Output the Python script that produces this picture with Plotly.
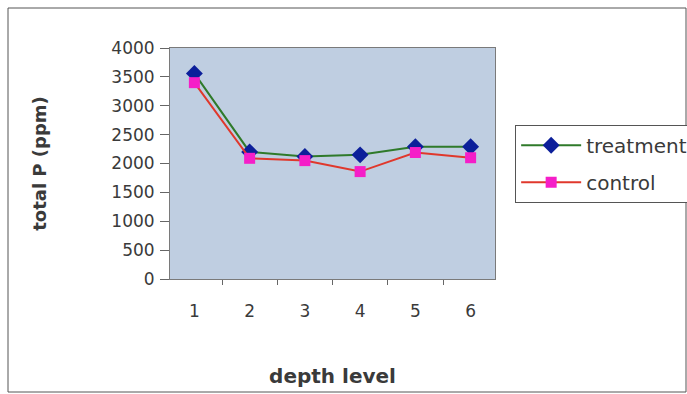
import plotly.graph_objects as go

depth = ["1", "2", "3", "4", "5", "6"]
treatment = [3560, 2200, 2120, 2150, 2290, 2290]
control = [3400, 2090, 2050, 1860, 2190, 2100]
y_ticks = [0, 500, 1000, 1500, 2000, 2500, 3000, 3500, 4000]

FONT = "DejaVu Sans, Verdana, sans-serif"
TXT = "#3a3a3a"

fig = go.Figure()
fig.add_trace(go.Scatter(
    x=depth, y=treatment, name="treatment", mode="lines+markers",
    line=dict(color="#2f7a2a", width=2),
    marker=dict(symbol="diamond", size=13, color="#0c1f9a"),
    legendgroup="a"))
fig.add_trace(go.Scatter(
    x=depth, y=control, name="control", mode="lines+markers",
    line=dict(color="#e0382c", width=2),
    marker=dict(symbol="square", size=11, color="#f51ec8"),
    legendgroup="b"))

fig.update_layout(
    width=687, height=394,
    margin=dict(l=170, r=192, t=48, b=115, autoexpand=False),
    paper_bgcolor="white",
    plot_bgcolor="#bfcee1",
    font=dict(family=FONT, size=17, color=TXT),
    showlegend=True,
    legend=dict(
        x=1.062, xanchor="left", y=0.668, yanchor="top",
        bordercolor="#555555", borderwidth=1, bgcolor="white",
        font=dict(size=20, color=TXT), itemwidth=60,
        tracegroupgap=8),
    xaxis=dict(
        type="category", showgrid=False, tickson="boundaries",
        ticks="outside", ticklen=5, tickcolor="#666666",
        showline=True, linecolor="#7a7a7a", linewidth=1, mirror=True,
        ticklabelstandoff=17, automargin=False,
        title=dict(text="<b>depth level</b>", font=dict(size=20, color=TXT), standoff=48)),
    yaxis=dict(
        range=[0, 4000], tickvals=y_ticks, showgrid=False,
        ticks="outside", ticklen=9, tickcolor="#666666",
        ticklabelstandoff=2, automargin=False,
        showline=True, linecolor="#7a7a7a", linewidth=1, mirror=True,
        zeroline=False,
        title=dict(text="<b>total P (ppm)</b>", font=dict(size=18, color=TXT), standoff=60)),
)

# chart outer border (scanned page frame)
fig.add_shape(type="rect", xref="paper", yref="paper",
              x0=(8 - 170) / 325, x1=(686 - 170) / 325,
              y0=(279 - 392) / 231, y1=(279 - 8) / 231,
              line=dict(color="#555555", width=1), layer="below")

fig.write_html("out.html")
